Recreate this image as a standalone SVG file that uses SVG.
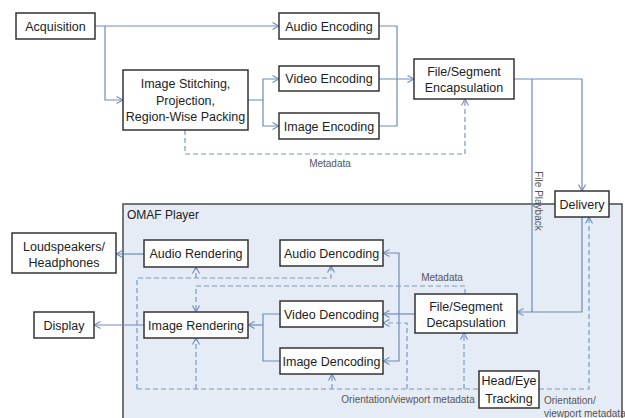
<svg xmlns="http://www.w3.org/2000/svg" width="625" height="418" viewBox="0 0 625 418">
  <style>
    .box { fill: #ffffff; stroke: #333333; stroke-width: 1.5; }
    .lbl { font-family: "Liberation Sans", Arial, sans-serif; font-size: 12.5px; fill: #222222; text-anchor: middle; }
    .small { font-family: "Liberation Sans", Arial, sans-serif; font-size: 10px; fill: #555555; }
    .solid { fill: none; stroke: #6d8cb8; stroke-width: 1.2; }
    .dash { fill: none; stroke: #7b99c0; stroke-width: 1.2; stroke-dasharray: 5 3; }
  </style>
  <defs>
    <marker id="arr" viewBox="0 0 8 8" refX="7.5" refY="4" markerWidth="8" markerHeight="8" markerUnits="userSpaceOnUse" orient="auto-start-reverse">
      <path d="M1,0.5 L7.5,4 L1,7.5" fill="none" stroke="#6d8cb8" stroke-width="1.1"/>
    </marker>
  </defs>

  <rect width="625" height="418" fill="#ffffff"/>

  <!-- player region -->
  <g id="omaf-player">
    <rect x="123" y="204" width="499" height="220" fill="#e6ecf6" stroke="#555555" stroke-width="1.6"/>
    <text x="127" y="219" font-family="Liberation Sans, Arial, sans-serif" font-size="12" fill="#222222">OMAF Player</text>
  </g>

  <!-- connectors -->
  <g id="connectors">
    <!-- content preparation -->
    <path class="solid" d="M95,26 H279" marker-end="url(#arr)"/>
    <path class="solid" d="M105,26 V100 H123" marker-end="url(#arr)"/>
    <path class="solid" d="M248,100 H263 V79 H279" marker-end="url(#arr)"/>
    <path class="solid" d="M263,100 V126 H279" marker-end="url(#arr)"/>
    <path class="solid" d="M379,26 H397 V126 H379"/>
    <path class="solid" d="M379,79 H414" marker-end="url(#arr)"/>
    <path class="dash" d="M185,130 V154 H465 V99" marker-end="url(#arr)"/>
    <path class="solid" d="M514,79 H582 V191" marker-end="url(#arr)"/>
    <path class="solid" d="M532,79 V312"/>
    <path class="solid" d="M582,217 V312 H517" marker-end="url(#arr)"/>

    <!-- player -->
    <path class="solid" d="M415,314 H383" marker-end="url(#arr)"/>
    <path class="solid" d="M383,253 H399 V361 H383" marker-start="url(#arr)" marker-end="url(#arr)"/>
    <path class="solid" d="M280,314 H263 V361 H280"/>
    <path class="solid" d="M263,325 H248" marker-end="url(#arr)"/>
    <path class="solid" d="M144,254 H116" marker-end="url(#arr)"/>
    <path class="solid" d="M144,325 H94" marker-end="url(#arr)"/>

    <path class="dash" d="M465,294 V286 H196 V312" marker-end="url(#arr)"/>
    <path class="dash" d="M137,389 V278 H331 V266" marker-end="url(#arr)"/>
    <path class="dash" d="M196,278 V267" marker-end="url(#arr)"/>
    <path class="dash" d="M137,389 H479"/>
    <path class="dash" d="M196,389 V338" marker-end="url(#arr)"/>
    <path class="dash" d="M332,389 V374" marker-end="url(#arr)"/>
    <path class="dash" d="M407,389 V323 H383" marker-end="url(#arr)"/>
    <path class="dash" d="M464,389 V333" marker-end="url(#arr)"/>
    <path class="dash" d="M539,389 H589 V217" marker-end="url(#arr)"/>

    <text class="small" x="330" y="167" text-anchor="middle">Metadata</text>
    <text class="small" x="442" y="281" text-anchor="middle">Metadata</text>
    <text class="small" x="408" y="403" text-anchor="middle" font-size="9.5">Orientation/viewport metadata</text>
    <text class="small" x="544" y="404">Orientation/</text>
    <text class="small" x="544" y="417">viewport metadata</text>
    <text class="small" x="535" y="201" text-anchor="middle" transform="rotate(90 535 201)" font-size="11" fill="#333333">File Playback</text>
  </g>

  <!-- nodes -->
  <g id="acquisition">
    <rect class="box" x="16" y="13" width="79" height="26"/>
    <text class="lbl" x="55.5" y="30.5">Acquisition</text>
  </g>
  <g id="stitching">
    <rect class="box" x="123" y="70" width="125" height="60"/>
    <text class="lbl" x="185.5" y="88">Image Stitching,</text>
    <text class="lbl" x="185.5" y="104.5">Projection,</text>
    <text class="lbl" x="185.5" y="121">Region-Wise Packing</text>
  </g>
  <g id="audio-encoding">
    <rect class="box" x="279" y="13" width="100" height="26"/>
    <text class="lbl" x="329" y="30.5">Audio Encoding</text>
  </g>
  <g id="video-encoding">
    <rect class="box" x="279" y="66" width="100" height="25"/>
    <text class="lbl" x="329" y="83">Video Encoding</text>
  </g>
  <g id="image-encoding">
    <rect class="box" x="279" y="113" width="100" height="26"/>
    <text class="lbl" x="329" y="130.5">Image Encoding</text>
  </g>
  <g id="encapsulation">
    <rect class="box" x="414" y="59" width="100" height="40"/>
    <text class="lbl" x="464" y="75.5">File/Segment</text>
    <text class="lbl" x="464" y="92">Encapsulation</text>
  </g>
  <g id="delivery">
    <rect class="box" x="555" y="191" width="54" height="26"/>
    <text class="lbl" x="582" y="208.5">Delivery</text>
  </g>
  <g id="loudspeakers">
    <rect class="box" x="12" y="233" width="104" height="40"/>
    <text class="lbl" x="64" y="250.5">Loudspeakers/</text>
    <text class="lbl" x="64" y="266.5">Headphones</text>
  </g>
  <g id="audio-rendering">
    <rect class="box" x="144" y="240" width="104" height="27"/>
    <text class="lbl" x="196" y="258">Audio Rendering</text>
  </g>
  <g id="audio-decoding">
    <rect class="box" x="280" y="240" width="103" height="26"/>
    <text class="lbl" x="331.5" y="257.5">Audio Dencoding</text>
  </g>
  <g id="video-decoding">
    <rect class="box" x="280" y="301" width="103" height="26"/>
    <text class="lbl" x="331.5" y="318.5">Video Dencoding</text>
  </g>
  <g id="image-decoding">
    <rect class="box" x="280" y="348" width="103" height="26"/>
    <text class="lbl" x="331.5" y="365.5">Image Dencoding</text>
  </g>
  <g id="decapsulation">
    <rect class="box" x="415" y="294" width="102" height="39"/>
    <text class="lbl" x="466" y="310.5">File/Segment</text>
    <text class="lbl" x="466" y="327">Decapsulation</text>
  </g>
  <g id="display">
    <rect class="box" x="34" y="312" width="60" height="26"/>
    <text class="lbl" x="64" y="329.5">Display</text>
  </g>
  <g id="image-rendering">
    <rect class="box" x="144" y="312" width="104" height="26"/>
    <text class="lbl" x="196" y="329.5">Image Rendering</text>
  </g>
  <g id="head-eye-tracking">
    <rect class="box" x="479" y="371" width="60" height="37"/>
    <text class="lbl" x="509" y="384.5">Head/Eye</text>
    <text class="lbl" x="509" y="402.5">Tracking</text>
  </g>
</svg>
